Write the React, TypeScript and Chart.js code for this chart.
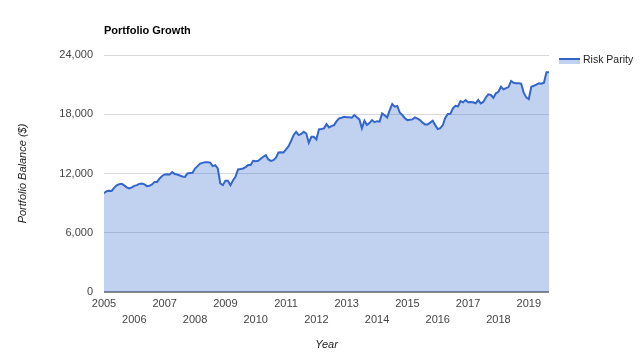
import React, { useEffect, useRef } from "react";
import { Chart, registerables } from "chart.js";

Chart.register(...registerables);

const TITLE = "Portfolio Growth";
const SERIES_NAME = "Risk Parity";
const START_YEAR = 2005;
const YEAR_TICKS = [2005, 2006, 2007, 2008, 2009, 2010, 2011, 2012, 2013, 2014, 2015, 2016, 2017, 2018, 2019];
const Y_TICKS = [0, 6000, 12000, 18000, 24000];

// Monthly portfolio balance, Jan 2005 onwards
const BALANCE = [
  10000, 10200, 10250, 10240, 10550, 10800, 10920, 10950, 10800, 10600, 10480, 10600,
  10750, 10820, 10950, 10990, 10900, 10720, 10750, 10900, 11150, 11150, 11500, 11750,
  11900, 11930, 11900, 12140, 11950, 11900, 11800, 11700, 11660, 12000, 12050, 12070,
  12500, 12750, 13000, 13080, 13150, 13150, 13100, 12750, 12850, 12510, 10990, 10820,
  11260, 11260, 10820, 11300, 11660, 12410, 12450, 12510, 12650, 12850, 12850, 13280,
  13250, 13280, 13490, 13700, 13860, 13420, 13280, 13350, 13600, 14130, 14150, 14130,
  14450, 14770, 15300, 15900, 16220, 15890, 16000, 16220, 16050, 15110, 15720, 15720,
  15450, 16470, 16500, 16570, 17000, 16670, 16800, 16900, 17300, 17580, 17650, 17750,
  17700, 17700, 17650, 17920, 17700, 17480, 16570, 17340, 16900, 17100, 17410, 17200,
  17300, 17250, 18090, 17900, 17680, 18420, 19030, 18760, 18830, 18150, 17920, 17600,
  17410, 17450, 17480, 17680, 17550, 17410, 17150, 16970, 16970, 17150, 17340, 16900,
  16500, 16600, 16900, 17650, 18020, 18050, 18600, 18860, 18800, 19340, 19200, 19440,
  19210, 19250, 19210, 19100, 19440, 19100, 19250, 19700, 20020, 19950, 19670, 20120,
  20280, 20790, 20520, 20650, 20750, 21370, 21190, 21150, 21150, 21100, 20180, 19710,
  19540, 20790, 20890, 21000, 21130, 21100, 21200, 22250, 22250,
];

const LINE_COLOR = "#3366cc";
const FILL_COLOR = "rgba(51,102,204,0.3)";
const FONT = "Arial, 'Liberation Sans', sans-serif";

export default function App() {
  const ref = useRef<HTMLCanvasElement | null>(null);

  useEffect(() => {
    if (!ref.current) return;
    const points = BALANCE.map((v, i) => ({ x: START_YEAR + i / 12, y: v }));

    const overlay = {
      id: "overlay",
      afterDraw(chart: any) {
        const ctx = chart.ctx;
        const area = chart.chartArea;
        ctx.save();
        // title
        ctx.font = `bold 11px ${FONT}`;
        ctx.fillStyle = "#000";
        ctx.textBaseline = "middle";
        ctx.textAlign = "left";
        ctx.fillText(TITLE, area.left, 31);
        // legend
        const lx = 559;
        const ly = 58;
        ctx.fillStyle = FILL_COLOR;
        ctx.fillRect(lx, ly, 21, 6);
        ctx.strokeStyle = LINE_COLOR;
        ctx.lineWidth = 2;
        ctx.beginPath();
        ctx.moveTo(lx, ly + 1);
        ctx.lineTo(lx + 21, ly + 1);
        ctx.stroke();
        ctx.font = `10.5px ${FONT}`;
        ctx.fillStyle = "#222";
        ctx.fillText(SERIES_NAME, 583, 60);
        ctx.restore();
      },
    };

    const chart = new Chart(ref.current, {
      type: "line",
      data: {
        datasets: [
          {
            label: SERIES_NAME,
            data: points,
            borderColor: LINE_COLOR,
            backgroundColor: FILL_COLOR,
            borderWidth: 2,
            pointRadius: 0,
            tension: 0,
            fill: "origin",
          },
        ],
      },
      options: {
        responsive: false,
        animation: false,
        devicePixelRatio: 1,
        layout: { padding: { left: 0, right: 91, top: 55, bottom: 0 } },
        plugins: {
          legend: { display: false },
          title: { display: false },
          tooltip: { enabled: false },
        },
        scales: {
          x: {
            type: "linear",
            min: START_YEAR,
            max: START_YEAR + (BALANCE.length - 1) / 12,
            afterBuildTicks: (scale: any) => {
              scale.ticks = YEAR_TICKS.map((v) => ({ value: v }));
            },
            afterFit: (scale: any) => {
              scale.height = 62;
            },
            grid: { display: false, drawTicks: false },
            border: { display: false },
            ticks: {
              autoSkip: false,
              maxRotation: 0,
              padding: 4,
              color: "#444",
              font: { family: FONT, size: 11, lineHeight: "16px" },
              callback: (v: any) => {
                const y = Math.round(Number(v));
                return (y - START_YEAR) % 2 === 0 ? [String(y)] : ["", String(y)];
              },
            },
            title: {
              display: true,
              text: "Year",
              color: "#222",
              font: { family: FONT, size: 11, style: "italic" },
              padding: { top: 0, bottom: 2 },
            },
          },
          y: {
            min: 0,
            max: 24000,
            afterBuildTicks: (scale: any) => {
              scale.ticks = Y_TICKS.map((v) => ({ value: v }));
            },
            afterFit: (scale: any) => {
              scale.width = 104;
            },
            grid: {
              drawTicks: false,
              color: (c: any) => (c.tick && c.tick.value === 0 ? "#888" : "#d9d9d9"),
              lineWidth: (c: any) => (c.tick && c.tick.value === 0 ? 2 : 1),
            },
            border: { display: false },
            ticks: {
              padding: 11,
              color: "#444",
              font: { family: FONT, size: 11 },
              callback: (v: any) => Number(v).toLocaleString("en-US"),
            },
            title: {
              display: true,
              text: "Portfolio Balance ($)",
              color: "#222",
              font: { family: FONT, size: 11, style: "italic" },
              padding: { top: 16, bottom: 0 },
            },
          },
        },
      },
      plugins: [overlay],
    });
    return () => chart.destroy();
  }, []);

  return (
    <div style={{ position: "absolute", left: 0, top: 0, width: 640, height: 354, background: "#fff" }}>
      <canvas ref={ref} width={640} height={354} />
    </div>
  );
}
